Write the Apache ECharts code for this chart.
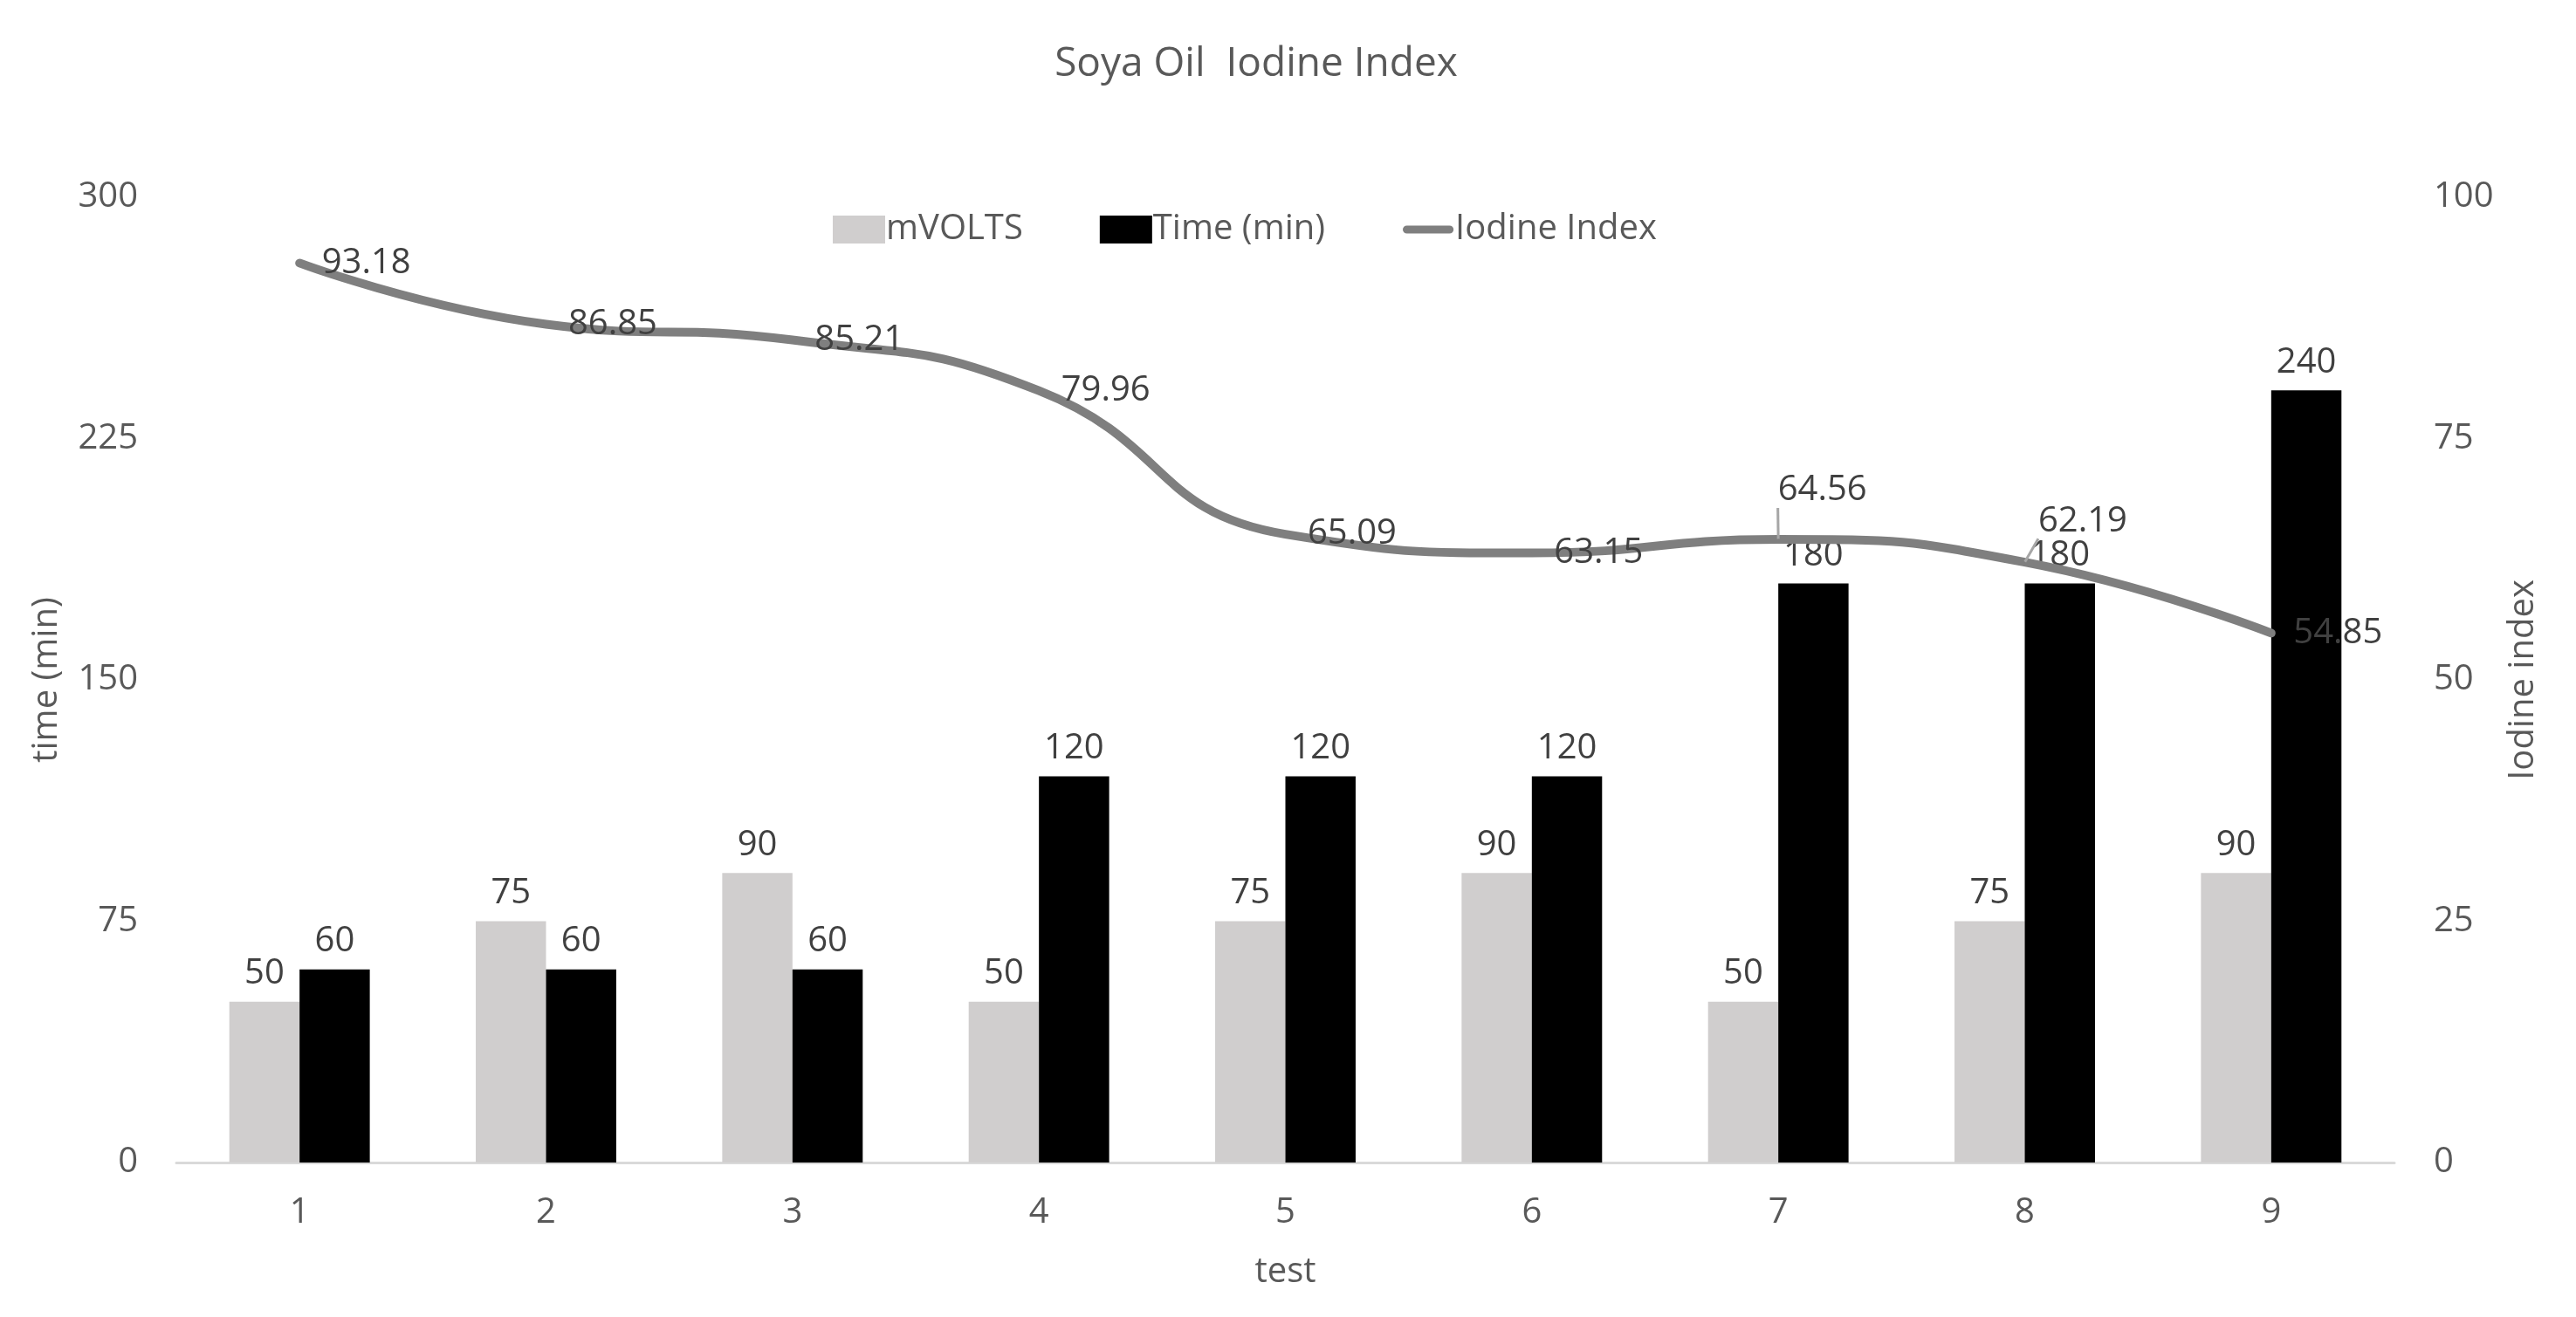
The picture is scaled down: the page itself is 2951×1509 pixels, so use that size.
<!DOCTYPE html>
<html>
<head>
<meta charset="utf-8">
<script src="https://cdn.jsdelivr.net/npm/echarts@6/dist/echarts.min.js"></script>
<style>html,body{margin:0;padding:0;background:#fff}#c{width:2951px;height:1509px}</style>
</head>
<body>
<div id="c"></div>
<script>
const categories = ['1','2','3','4','5','6','7','8','9'];
const mVolts = [50, 75, 90, 50, 75, 90, 50, 75, 90];
const timeMin = [60, 60, 60, 120, 120, 120, 180, 180, 240];
const iodineIndex = [93.18, 86.85, 85.21, 79.96, 65.09, 63.15, 64.56, 62.19, 54.85];
const leftTicks = [0, 75, 150, 225, 300];
const rightTicks = [0, 25, 50, 75, 100];

const FONT = 'Open Sans';
const axisTextColor = '#595959';
const labelColor = '#404040';

const lineData = iodineIndex.map((v, i) => {
  if (i === 6) return {value: v, label: {offset: [-26, -56]}, labelLine: {show: true}};
  if (i === 7) return {value: v, label: {offset: [-10, -47]}, labelLine: {show: true}};
  return v;
});

const lineIcon = 'path://M0,0 L0.05,0 L0.05,0.05 L0,0.05 Z M6,11 L60,11 A5,5 0 0 1 60,21 L6,21 A5,5 0 0 1 6,11 Z M65.95,31.95 L66,31.95 L66,32 L65.95,32 Z';

const chart = echarts.init(document.getElementById('c'));
chart.setOption({
  animation: false,
  textStyle: {fontFamily: FONT},
  title: {
    text: 'Soya Oil  Iodine Index',
    left: 1434, top: 46, textAlign: 'center',
    textStyle: {fontFamily: FONT, fontSize: 46, fontWeight: 'normal', color: axisTextColor}
  },
  legend: {
    left: 949, top: 238,
    itemWidth: 60, itemHeight: 32, itemGap: 88,
    textStyle: {fontFamily: FONT, fontSize: 40, color: axisTextColor, padding: [0, 0, 0, -4]},
    data: [
      {name: 'mVOLTS', icon: 'rect'},
      {name: 'Time (min)', icon: 'rect'},
      {name: 'Iodine Index', icon: lineIcon, itemStyle: {color: '#7f7f7f'}}
    ]
  },
  grid: {left: 202, right: 208, top: 226, bottom: 177},
  xAxis: {
    type: 'category',
    data: categories,
    name: 'test', nameLocation: 'middle', nameGap: 106,
    nameTextStyle: {fontFamily: FONT, fontSize: 40, color: axisTextColor},
    axisLine: {lineStyle: {color: '#d9d9d9', width: 3}},
    axisTick: {show: false},
    axisLabel: {fontFamily: FONT, fontSize: 40, color: axisTextColor, margin: 38}
  },
  yAxis: [
    {
      type: 'value', min: leftTicks[0], max: leftTicks[leftTicks.length-1], interval: 75,
      name: 'time (min)', nameLocation: 'middle', nameGap: 128, nameRotate: 90,
      nameTextStyle: {fontFamily: FONT, fontSize: 40, color: axisTextColor},
      axisLine: {show: false}, axisTick: {show: false}, splitLine: {show: false},
      axisLabel: {fontFamily: FONT, fontSize: 40, color: axisTextColor, margin: 44}
    },
    {
      type: 'value', min: rightTicks[0], max: rightTicks[rightTicks.length-1], interval: 25,
      name: 'Iodine index', nameLocation: 'middle', nameGap: 128, nameRotate: 90,
      nameTextStyle: {fontFamily: FONT, fontSize: 40, color: axisTextColor},
      axisLine: {show: false}, axisTick: {show: false}, splitLine: {show: false},
      axisLabel: {fontFamily: FONT, fontSize: 40, color: axisTextColor, margin: 45}
    }
  ],
  series: [
    {
      name: 'mVOLTS', type: 'bar', yAxisIndex: 0, data: mVolts,
      barGap: '0%', barCategoryGap: '43%',
      itemStyle: {color: '#d0cece'},
      label: {show: true, position: 'top', distance: 12, fontFamily: FONT, fontSize: 40, color: labelColor}
    },
    {
      name: 'Time (min)', type: 'bar', yAxisIndex: 0, data: timeMin,
      barGap: '0%', barCategoryGap: '43%',
      itemStyle: {color: '#000000'},
      label: {show: true, position: 'top', distance: 12, fontFamily: FONT, fontSize: 40, color: labelColor}
    },
    {
      name: 'Iodine Index', type: 'line', yAxisIndex: 1, data: lineData,
      smooth: 0.5, symbol: 'circle', symbolSize: 1, showSymbol: true,
      lineStyle: {color: '#7f7f7f', width: 10, cap: 'round'},
      itemStyle: {color: '#7f7f7f'},
      label: {show: true, position: 'right', distance: 25, fontFamily: FONT, fontSize: 40, color: labelColor},
      labelLine: {show: false, lineStyle: {color: '#a6a6a6', width: 3}},
      z: 5
    }
  ]
});
</script>
</body>
</html>
